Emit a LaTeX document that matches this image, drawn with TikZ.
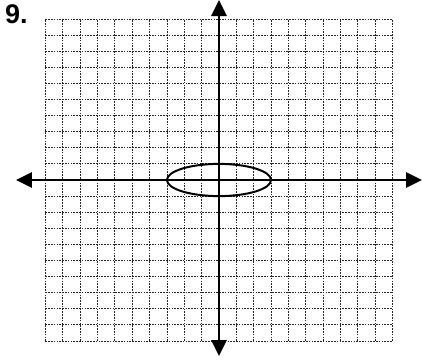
\documentclass[tikz,border=0pt]{standalone}
\usepackage{fontspec}
\setmainfont{Liberation Sans}
\usetikzlibrary{arrows.meta}
\begin{document}
\begin{tikzpicture}[x=17.35pt, y=16.1pt,
    gridline/.style={line width=0.9pt, dash pattern=on 1.6pt off 1.2pt, black!85},
    axis/.style={line width=2.8pt, {Triangle[length=16pt,width=15pt]}-{Triangle[length=16pt,width=15pt]}},
    curve/.style={line width=2pt}]
  \useasboundingbox (-219pt,-180pt) rectangle (203pt,180pt);

  % problem number
  \node[font=\bfseries\fontsize{27}{30}\selectfont, anchor=north west, inner sep=0pt] (num) at (-214pt,176pt) {9.};

  % grid
  \foreach \i in {-10,...,10} {
    \draw[gridline] (\i,-10) -- (\i,10);
    \draw[gridline] (-10,\i) -- (10,\i);
  }

  % axes
  \draw[axis] (-203pt,0) -- (203pt,0);
  \draw[axis] (0,-176pt) -- (0,180pt);

  % ellipse
  \draw[curve] (0,0) ellipse (3 and 1);
\end{tikzpicture}
\end{document}
